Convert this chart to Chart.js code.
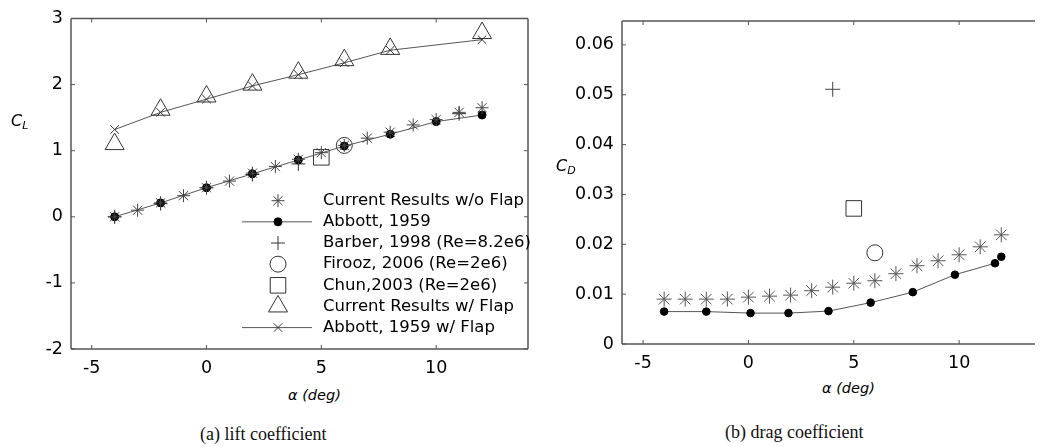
<!DOCTYPE html>
<html>
<head>
<meta charset="utf-8">
<script src="https://cdn.jsdelivr.net/npm/chart.js@4.4.1/dist/chart.umd.min.js"></script>
<style>
    html, body { margin: 0; padding: 0; background: #fff; }
    body { width: 1047px; height: 447px; overflow: hidden; position: relative; font-family: "DejaVu Sans", sans-serif; color: #000; }
    .box { position: absolute; }
    .lbl { position: absolute; font-style: italic; font-size: 14.5px; white-space: nowrap; line-height: 16px; }
    .cl { font-size: 16px; }
    .cl sub { font-size: 11px; vertical-align: -3px; }
    .cap { position: absolute; font-family: "Liberation Serif", serif; font-size: 18px; white-space: nowrap; line-height: 21px; color: #111; }
</style>
</head>
<body>
<div class="box" style="left:0;top:0;width:540px;height:380px"><canvas id="liftChart"></canvas></div>
<div class="box" style="left:540px;top:0;width:507px;height:380px"><canvas id="dragChart"></canvas></div>

<div class="lbl cl" style="left:11px;top:113px">C<sub>L</sub></div>
<div class="lbl cl" style="left:556px;top:158px">C<sub>D</sub></div>
<div class="lbl" style="left:288px;top:387px">α (deg)</div>
<div class="lbl" style="left:822px;top:380px">α (deg)</div>
<div class="cap" style="left:200px;top:424px">(a) lift coefficient</div>
<div class="cap" style="left:725px;top:422px">(b) drag coefficient</div>

<script>
"use strict"

// lift coefficient (a)
const alphaCurrent = [-4, -3, -2, -1, 0, 1, 2, 3, 4, 5, 6, 7, 8, 9, 10, 11, 12]
const clCurrent = [0, 0.1, 0.21, 0.32, 0.44, 0.54, 0.66, 0.76, 0.87, 0.97, 1.08, 1.19, 1.28, 1.39, 1.47, 1.58, 1.65]
const alphaAbbott = [-4, -2, 0, 2, 4, 6, 8, 10, 12]
const clAbbott = [0, 0.21, 0.44, 0.65, 0.86, 1.07, 1.25, 1.44, 1.54]
const alphaBarberCl = [-4, -2, 0, 2, 4, 11]
const clBarber = [0, 0.2, 0.44, 0.64, 0.8, 1.56]
const alphaFiroozCl = [6]
const clFirooz = [1.08]
const alphaChunCl = [5]
const clChun = [0.9]
const alphaFlap = [-4, -2, 0, 2, 4, 6, 8, 12]
const clFlapCurrent = [1.1, 1.62, 1.82, 2.0, 2.18, 2.37, 2.54, 2.78]
const clFlapAbbott = [1.32, 1.58, 1.78, 1.98, 2.15, 2.33, 2.52, 2.68]

// drag coefficient (b)
const cdCurrent = [0.009, 0.009, 0.009, 0.009, 0.0094, 0.0096, 0.0098, 0.0107, 0.0114, 0.0122, 0.0127, 0.0141, 0.0157, 0.0167, 0.0179, 0.0195, 0.0219]
const alphaCdAbbott = [-4, -2, 0.1, 1.9, 3.8, 5.8, 7.8, 9.8, 11.7, 12]
const cdAbbott = [0.0065, 0.0065, 0.0062, 0.0062, 0.0066, 0.0083, 0.0104, 0.0139, 0.0162, 0.0175]
const alphaBarberCd = [4]
const cdBarber = [0.0511]
const alphaChunCd = [5]
const cdChun = [0.0272]
const alphaFiroozCd = [6]
const cdFirooz = [0.0183]

const legendLabels = [
    "Current Results w/o Flap",
    "Abbott, 1959",
    "Barber, 1998 (Re=8.2e6)",
    "Firooz, 2006 (Re=2e6)",
    "Chun,2003 (Re=2e6)",
    "Current Results w/ Flap",
    "Abbott, 1959 w/ Flap"
]

const TICK_FONT = { family: "DejaVu Sans", size: 17.5 }

function toPoints(xs, ys) {
    return xs.map((x, i) => ({ x: x, y: ys[i] }))
}

function makeSet(label, xs, ys, style) {
    return {
        label: label,
        data: toPoints(xs, ys),
        showLine: !!style.line,
        borderColor: "#555",
        borderWidth: 1,
        pointStyle: style.shape,
        pointRadius: style.r,
        pointBorderWidth: 1,
        pointBorderColor: style.color || "#222",
        pointBackgroundColor: style.fill || "rgba(0,0,0,0)",
        clip: false,
    }
}

// box around the plot with small ticks pointing inside
const frameTicks = {
    id: "frameTicks",
    afterDatasetsDraw(chart, args, opts) {
        const ctx = chart.ctx
        const a = chart.chartArea
        const sx = chart.scales.x
        const sy = chart.scales.y
        ctx.save()
        ctx.strokeStyle = "#555"
        ctx.lineWidth = 1.5
        ctx.beginPath()
        ctx.moveTo(a.left, a.top); ctx.lineTo(a.left, a.bottom)
        ctx.moveTo(a.left, a.bottom); ctx.lineTo(a.right, a.bottom)
        ctx.moveTo(a.left, a.top); ctx.lineTo(a.right, a.top)
        if (opts.right) { ctx.moveTo(a.right, a.top); ctx.lineTo(a.right, a.bottom) }
        ctx.stroke()
        ctx.lineWidth = 1
        ctx.beginPath()
        sx.ticks.forEach(t => {
            const px = sx.getPixelForValue(t.value)
            ctx.moveTo(px, a.bottom); ctx.lineTo(px, a.bottom - 4)
            ctx.moveTo(px, a.top); ctx.lineTo(px, a.top + 4)
        })
        sy.ticks.forEach(t => {
            const py = sy.getPixelForValue(t.value)
            ctx.moveTo(a.left, py); ctx.lineTo(a.left + 4, py)
            if (opts.right) { ctx.moveTo(a.right, py); ctx.lineTo(a.right - 4, py) }
        })
        ctx.stroke()
        ctx.restore()
    }
}

// legend drawn inside the lift plot
const insideLegend = {
    id: "insideLegend",
    afterDraw(chart, args, opts) {
        if (!opts.show) return
        const ctx = chart.ctx
        ctx.save()
        chart.data.datasets.forEach((ds, i) => {
            const y = opts.top + i * opts.step
            if (ds.showLine) {
                ctx.strokeStyle = ds.borderColor
                ctx.lineWidth = 1
                ctx.beginPath()
                ctx.moveTo(opts.lineFrom, y)
                ctx.lineTo(opts.lineTo, y)
                ctx.stroke()
            }
            ctx.strokeStyle = ds.pointBorderColor
            ctx.fillStyle = ds.pointBackgroundColor
            ctx.lineWidth = 1
            Chart.helpers.drawPoint(ctx, { pointStyle: ds.pointStyle, radius: ds.pointRadius, rotation: 0, borderWidth: 1 }, opts.markX, y)
            ctx.fillStyle = "#000"
            ctx.font = '16.5px "DejaVu Sans"'
            ctx.textBaseline = "middle"
            ctx.fillText(legendLabels[i], opts.textX, y)
        })
        ctx.restore()
    }
}

function axisOptions(min, max, step, size, isX, fmt) {
    const o = {
        type: "linear",
        min: min,
        max: max,
        ticks: { stepSize: step, includeBounds: false, padding: isX ? 9 : 8, color: "#000", font: TICK_FONT },
        grid: { display: false, drawTicks: false },
        border: { display: false },
        afterFit(scale) {
            if (isX) scale.height = size
            else scale.width = size
        }
    }
    if (fmt) o.ticks.callback = fmt
    return o
}

function drawLiftChart() {
    const datasets = [
        makeSet(legendLabels[0], alphaCurrent, clCurrent, { shape: "star", r: 6.5, color: "#444" }),
        makeSet(legendLabels[1], alphaAbbott, clAbbott, { shape: "circle", r: 4, color: "#000", fill: "#000", line: true }),
        makeSet(legendLabels[2], alphaBarberCl, clBarber, { shape: "cross", r: 7, color: "#333" }),
        makeSet(legendLabels[3], alphaFiroozCl, clFirooz, { shape: "circle", r: 8, color: "#333" }),
        makeSet(legendLabels[4], alphaChunCl, clChun, { shape: "rect", r: 11, color: "#333" }),
        makeSet(legendLabels[5], alphaFlap, clFlapCurrent, { shape: "triangle", r: 11, color: "#333" }),
        makeSet(legendLabels[6], alphaFlap, clFlapAbbott, { shape: "crossRot", r: 6, color: "#333", line: true }),
    ]
    const ctx = document.getElementById("liftChart").getContext("2d")
    return new Chart(ctx, {
        type: "scatter",
        data: { datasets: datasets },
        options: {
            responsive: true,
            maintainAspectRatio: false,
            animation: false,
            layout: { padding: { top: 16, right: 5, left: 0, bottom: 0 } },
            plugins: {
                legend: { display: false },
                tooltip: { enabled: false },
                frameTicks: { right: true },
                insideLegend: { show: true, top: 200.7, step: 21.15, markX: 278, lineFrom: 242, lineTo: 312, textX: 323 },
            },
            scales: {
                x: axisOptions(-5.9, 14, 5, 31, true),
                y: axisOptions(-2, 3, 1, 71, false),
            }
        },
        plugins: [frameTicks, insideLegend]
    })
}

function drawDragChart() {
    const datasets = [
        makeSet(legendLabels[0], alphaCurrent, cdCurrent, { shape: "star", r: 7.5, color: "#555" }),
        makeSet(legendLabels[1], alphaCdAbbott, cdAbbott, { shape: "circle", r: 3.8, color: "#000", fill: "#000", line: true }),
        makeSet(legendLabels[2], alphaBarberCd, cdBarber, { shape: "cross", r: 7.5, color: "#444" }),
        makeSet(legendLabels[3], alphaFiroozCd, cdFirooz, { shape: "circle", r: 8, color: "#333" }),
        makeSet(legendLabels[4], alphaChunCd, cdChun, { shape: "rect", r: 11, color: "#333" }),
    ]
    const ctx = document.getElementById("dragChart").getContext("2d")
    return new Chart(ctx, {
        type: "scatter",
        data: { datasets: datasets },
        options: {
            responsive: true,
            maintainAspectRatio: false,
            animation: false,
            layout: { padding: { top: 21, right: 0, left: 0, bottom: 0 } },
            plugins: {
                legend: { display: false },
                tooltip: { enabled: false },
                frameTicks: { right: false },
                insideLegend: { show: false },
            },
            scales: {
                x: axisOptions(-6, 13.6, 5, 36, true),
                y: axisOptions(0, 0.0648, 0.01, 82, false, v => v === 0 ? "0" : v.toFixed(2)),
            }
        },
        plugins: [frameTicks, insideLegend]
    })
}

drawLiftChart()
drawDragChart()
</script>
</body>
</html>
